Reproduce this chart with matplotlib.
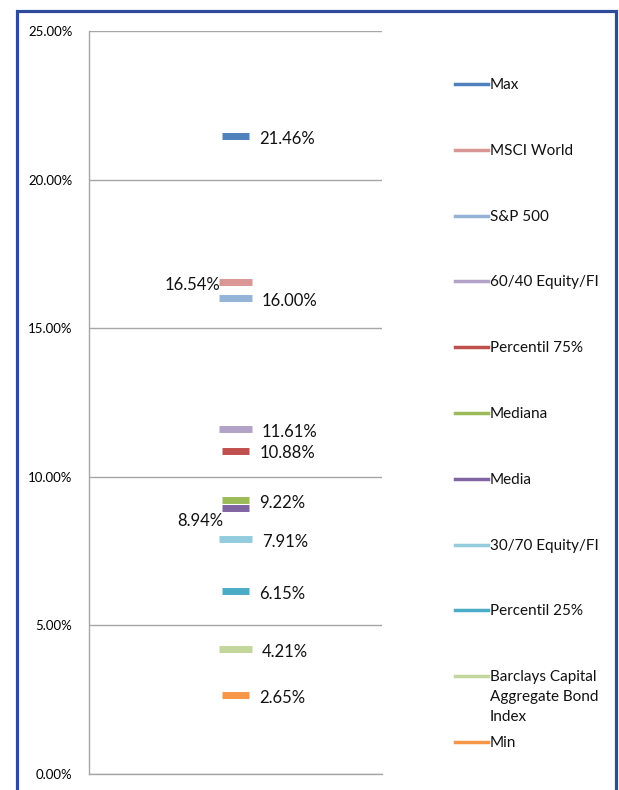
import matplotlib.pyplot as plt
from matplotlib.lines import Line2D
from matplotlib.patches import Rectangle

plt.rcParams['font.family'] = ['Lato', 'DejaVu Sans']

# ---------------------------------------------------------
# Data
# ---------------------------------------------------------
names = ["Max", "MSCI World", "S&P 500", "60/40 Equity/FI", "Percentil 75%",
         "Mediana", "Media", "30/70 Equity/FI", "Percentil 25%",
         "Barclays Capital\nAggregate Bond\nIndex", "Min"]
values = [21.46, 16.54, 16.00, 11.61, 10.88, 9.22, 8.94, 7.91, 6.15, 4.21, 2.65]
colors = ["#4F81BD", "#D99694", "#95B3D7", "#B3A2C7", "#C0504D",
          "#9BBB59", "#8064A2", "#93CDDD", "#4BACC6", "#C3D69B", "#F79646"]
label_side = ["right", "left", "right", "right", "right",
              "right", "left", "right", "right", "right", "right"]
is_index = [False, True, True, True, False, False, False, True, False, True, False]
yticks = [0, 5, 10, 15, 20, 25]

# ---------------------------------------------------------
# Figure
# ---------------------------------------------------------
W, H = 619, 790
fig = plt.figure(figsize=(W / 100, H / 100), dpi=100)
ax = fig.add_axes([89 / W, 1 - 774 / H, (382 - 89) / W, (774 - 31) / H])

# blue frame around the chart (runs off the bottom)
fig.patches.append(Rectangle((17 / W, -0.05), (616 - 17) / W, 1.05 - 11 / H,
                             transform=fig.transFigure, fill=False,
                             edgecolor="#2E4A9A", linewidth=2.3))

x0 = 1.0
for v, c, wide in zip(values, colors, is_index):
    hw = 0.112 if wide else 0.095
    ax.hlines(v, x0 - hw, x0 + hw, color=c, linewidth=5.0)

for v, side, wide in zip(values, label_side, is_index):
    txt = f"{v:.2f}%"
    hw = 0.112 if wide else 0.095
    if side == "right":
        ax.annotate(txt, (x0 + hw, v), xytext=(7, -2), textcoords="offset points",
                    ha="left", va="center", fontsize=12, color="#111111")
    else:
        dy = -9 if v < 10 else -2
        ax.annotate(txt, (x0 - hw, v), xytext=(1, dy), textcoords="offset points",
                    ha="right", va="center", fontsize=12, color="#111111")

ax.set_xlim(0, 2)
ax.set_ylim(0, 25)
ax.set_yticks(yticks)
ax.set_yticklabels([f"{t:.2f}%" for t in yticks], fontsize=9.5)
ax.set_xticks([])
ax.tick_params(axis="y", length=0, pad=12)
ax.yaxis.grid(True, color="#A6A6A6", linewidth=1.0)
ax.set_axisbelow(True)
for s in ["top", "right"]:
    ax.spines[s].set_visible(False)
for s in ["left", "bottom"]:
    ax.spines[s].set_color("#A6A6A6")
    ax.spines[s].set_linewidth(1.0)

# legend drawn at fixed rows, one text line at a time
for i, (n, c) in enumerate(zip(names, colors)):
    yp = 84 + i * 65.8
    fig.add_artist(Line2D([455 / W, 488 / W], [1 - yp / H, 1 - yp / H],
                          transform=fig.transFigure, color=c, linewidth=2.5))
    for k, line in enumerate(n.split("\n")):
        fig.text(490 / W, 1 - (yp + 5 + 20 * k) / H, line, ha="left",
                 va="baseline", fontsize=11, color="#111111")

fig.savefig("out.png", dpi=100)
